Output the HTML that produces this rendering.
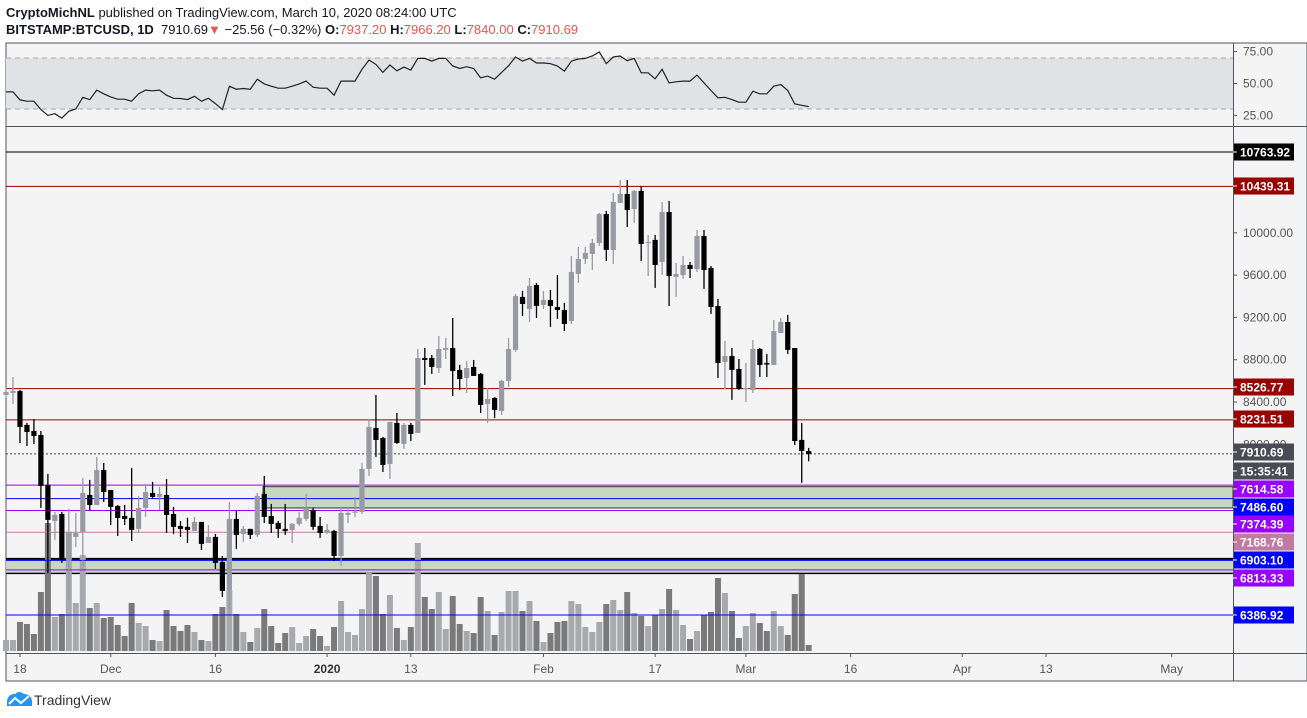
<!DOCTYPE html>
<html><head><meta charset="utf-8"><style>
html,body{margin:0;padding:0;background:#fff;width:1307px;height:718px;overflow:hidden;font-family:"Liberation Sans",sans-serif}
.hdr{position:absolute;left:6px;font-size:13px;color:#131722;white-space:nowrap}
</style></head><body>
<div class="hdr" style="top:5px"><b>CryptoMichNL</b> published on TradingView.com, March 10, 2020 08:24:00 UTC</div>
<div class="hdr" style="top:22px"><b>BITSTAMP:BTCUSD, 1D</b>&nbsp; 7910.69<span style="color:#ef5350">▼</span> −25.56 (−0.32%) <b>O:</b><span style="color:#ef5350">7937.20</span> <b>H:</b><span style="color:#ef5350">7966.20</span> <b>L:</b><span style="color:#ef5350">7840.00</span> <b>C:</b><span style="color:#ef5350">7910.69</span></div>
<svg id="c" width="1307" height="718" style="position:absolute;left:0;top:0" xmlns="http://www.w3.org/2000/svg"></svg>
<script>
const opens=[8467,8486,8505,8184,8127,8089,7617,7276,7342,6898,7125,7173,7522,7427,7758,7569,7418,7323,7305,7201,7399,7541,7503,7522,7342,7229,7220,7182,7267,7068,7125,6888,6624,7295,7153,7201,7144,7532,7323,7257,7201,7191,7248,7295,7380,7229,7163,7182,6945,7333,7361,7361,7768,8155,8061,7815,8203,8004,8184,8108,8817,8817,8722,8893,8911,8704,8628,8732,8666,8382,8439,8316,8600,8893,9394,9280,9507,9318,9365,9299,9270,9167,9611,9753,9800,9904,10178,9838,10282,10367,10225,10396,9904,9933,9724,10197,9583,9601,9696,9658,9970,9668,9308,8779,8836,8713,8524,8515,8902,8770,8751,9053,9157,8911,8042,7937.2];
const highs=[8533,8637,8515,8203,8240,8127,7721,7361,7361,7390,7352,7683,7664,7881,7825,7569,7427,7427,7777,7513,7626,7645,7598,7673,7409,7276,7305,7314,7267,7238,7153,6945,7456,7371,7229,7201,7541,7702,7437,7276,7437,7257,7361,7532,7399,7314,7248,7191,7409,7409,7503,7825,8240,8467,8070,8212,8297,8203,8203,8902,8911,8845,9025,9006,9195,8751,8789,8798,8675,8533,8448,8609,9006,9422,9451,9573,9526,9450,9460,9601,9337,9781,9866,9866,9942,10188,10207,10377,10500,10500,10405,10443,9980,9980,10292,10301,9715,9781,9724,10027,10027,9686,9375,8978,8911,8807,8770,8987,8911,8855,9176,9195,9223,8911,8203,7966.2];
const lows=[8439,8382,8013,7985,8004,7399,6784,7097,6879,6529,7031,6851,7371,7427,7456,7238,7134,7238,7087,7163,7314,7494,7380,7163,7153,7125,7068,7182,7002,7068,6822,6558,6435,7012,7078,7106,7125,7257,7163,7116,7144,7068,7229,7276,7191,7116,7153,6898,6851,7257,7314,7342,7702,7881,7739,7673,8004,7957,8032,8108,8562,8666,8675,8807,8458,8515,8486,8647,8297,8203,8250,8278,8543,8874,9214,9157,9195,9280,9110,9186,9072,9138,9526,9705,9649,9876,9734,9705,10282,10055,10093,9734,9592,9479,9601,9308,9393,9564,9573,9630,9469,9233,8628,8524,8420,8515,8401,8486,8637,8637,8751,9053,8855,7994,7636,7840];
const closes=[8496,8505,8165,8117,8080,7607,7286,7333,6907,7173,7163,7541,7427,7758,7550,7409,7305,7295,7191,7399,7550,7503,7532,7333,7220,7201,7191,7267,7059,7125,6879,6615,7295,7144,7201,7144,7513,7314,7248,7201,7182,7248,7305,7390,7220,7163,7191,6945,7352,7352,7365,7768,8165,8042,7806,8212,8013,8184,8099,8817,8798,8732,8902,8911,8694,8618,8722,8647,8373,8429,8325,8600,8902,9403,9327,9498,9308,9365,9308,9270,9138,9630,9753,9810,9904,10178,9838,10292,10367,10216,10396,9895,9914,9696,10197,9592,9611,9696,9658,9970,9649,9299,8770,8836,8704,8524,8533,8902,8750,8755,9072,9157,8893,8032,7937,7910.69];
const volumes=[11,11,29,27,17,59,128,34,37,119,48,96,43,48,33,34,26,15,48,28,25,11,10,41,25,20,26,19,11,10,37,44,61,37,19,9,23,42,25,8,18,24,8,15,22,15,5,24,50,19,16,42,78,75,37,56,23,11,24,108,54,42,59,22,55,27,20,18,54,40,16,39,60,60,40,50,30,9,18,29,30,50,47,24,19,29,47,51,41,59,38,35,25,36,42,62,41,26,12,20,36,39,73,58,40,13,25,38,28,20,40,25,16,57,77,6];
const rsiValues=[43.4,43.4,37.1,36.1,36.1,29.5,25.0,26.3,22.9,28.2,30.0,39.2,37.4,44.8,41.9,39.5,37.7,37.7,36.1,41.9,44.8,44.3,44.8,40.8,38.4,38.2,37.4,40.0,36.1,38.4,34.2,29.5,47.9,45.5,46.1,45.5,53.4,49.7,47.9,46.3,46.3,47.9,49.7,51.9,47.1,46.3,46.3,40.8,51.9,51.9,51.9,61.1,68.4,65.0,58.7,64.5,60.0,62.9,60.5,69.7,69.7,67.6,69.7,69.7,63.7,61.8,63.2,61.8,54.5,55.8,53.4,58.7,64.0,70.8,67.6,69.7,66.1,66.1,65.5,63.7,59.7,67.6,69.2,69.7,71.6,74.7,65.5,70.8,71.6,67.9,69.7,58.4,58.4,53.7,61.1,50.5,51.3,51.9,51.9,56.6,50.5,44.5,38.7,39.2,37.4,35.3,35.3,44.0,41.9,41.9,47.9,49.2,44.5,34.0,32.9,31.9];
const priceTicks=[10000,9600,9200,8800,8400,8000];
const rsiTicks=[75,50,25];
const dateLabels=["18","Dec","16","2020","13","Feb","17","Mar","16","Apr","13","May"];
const dateIndex=[2,15,30,46,58,77,93,106,121,137,149,167];
const levelPrices=[10763.92,10439.31,8526.77,8231.51,7614.58,7486.60,7374.39,7168.76,6903.10,6813.33,6386.92];
const levelColors=["#000","#990000","#990000","#990000","#9900ff","#0000ff","#9900ff","#c27ba0","#0000ff","#9900ff","#0000ff"];
const labelY=[152,186,387,419,489,507,524,542,560,578,615];

const NS="http://www.w3.org/2000/svg";
const svg=document.getElementById('c');
function el(t,a,p){const e=document.createElementNS(NS,t);for(const k in a)e.setAttribute(k,a[k]);(p||svg).appendChild(e);return e;}
const L=6,R=1233;
const yP=p=>152+(10763.92-p)*0.10578;
const xI=i=>6+6.98*i;
const yR=r=>58+(70-r)*1.275;
const yV=v=>651-v;

// backgrounds
let bg=el('rect',{x:L,y:43,width:1301,height:638,fill:'#f4f4f4',stroke:'#50535e','stroke-width':1});

let band=el('rect',{x:L,y:yR(70),width:R-L,height:yR(30)-yR(70),fill:'#e1e2e5'});

[70,30].forEach(v=>{let d=el('line',{x1:L,x2:R,y1:yR(v),y2:yR(v),stroke:'#a8a8a8','stroke-dasharray':'5,4'});});
el('line',{x1:L,x2:1307,y1:126.5,y2:126.5,stroke:'#50535e'});
el('line',{x1:L,x2:1307,y1:653.5,y2:653.5,stroke:'#50535e'});
el('line',{x1:R+0.5,x2:R+0.5,y1:43,y2:681,stroke:'#50535e'});

// rsi ticks
rsiTicks.forEach(v=>{let t=el('text',{x:1243,y:yR(v)+4,'font-size':12,fill:'#555','font-family':'Liberation Sans'});t.textContent=v.toFixed(2);el('line',{x1:R,x2:R+4,y1:yR(v),y2:yR(v),stroke:'#555'});});
// rsi line
let rp=rsiValues.map((r,i)=>xI(i).toFixed(1)+','+yR(r).toFixed(1)).join(' ');
let rl=el('polyline',{points:rp,fill:'none',stroke:'#222','stroke-width':1.2});


// price ticks
priceTicks.forEach(v=>{let t=el('text',{x:1243,y:yP(v)+4,'font-size':12,fill:'#555','font-family':'Liberation Sans'});t.textContent=v.toFixed(2);el('line',{x1:R,x2:R+4,y1:yP(v),y2:yP(v),stroke:'#555'});});

// boxes
let b1=el('rect',{x:263,y:yP(7600),width:R-263,height:yP(7399)-yP(7600),fill:'#c6d7c2',stroke:'#333','stroke-width':1});

let b2=el('rect',{x:L,y:yP(6903.10)-1.5,width:R-L,height:yP(6780)-yP(6903.10)+1.5,fill:'#c6d7c2'});

el('line',{x1:L,x2:R,y1:yP(6903.10)-1.5,y2:yP(6903.10)-1.5,stroke:'#000','stroke-width':2});
el('line',{x1:L,x2:R,y1:yP(6780),y2:yP(6780),stroke:'#000','stroke-width':1.3});

// volume
volumes.forEach((v,i)=>{const up=closes[i]>=opens[i];let r=el('rect',{x:xI(i)-3,y:yV(v),width:6,height:v,fill:up?'#a8a9ad':'#7a7a7a'});});

// level lines
levelPrices.forEach((p,i)=>{let l=el('line',{x1:L,x2:R,y1:yP(p),y2:yP(p),stroke:levelColors[i],'stroke-width':1});});
let pl=el('line',{x1:L,x2:R,y1:yP(7910.69),y2:yP(7910.69),stroke:'#444','stroke-dasharray':'2,2'});


// candles
opens.forEach((o,i)=>{const c=closes[i],up=c>=o,col=up?'#989aa3':'#000',x=xI(i);
 const g=el('g',{});
 el('line',{x1:x,x2:x,y1:yP(highs[i]),y2:yP(lows[i]),stroke:col,'stroke-width':1.3},g);
 const t=yP(Math.max(o,c)),b=yP(Math.min(o,c));
 el('rect',{x:x-2.6,y:t,width:5.2,height:Math.max(1.2,b-t),fill:col},g);});

// axis labels (price levels)
const lblText=["10763.92","10439.31","8526.77","8231.51","7614.58","7486.60","7374.39","7168.76","6903.10","6813.33","6386.92"];
function tag(y,txt,col,name){el('rect',{x:1234,y:y-8.5,width:60,height:17,fill:col});let t=el('text',{x:1240,y:y+4.5,'font-size':12,'font-weight':'bold',fill:'#fff','font-family':'Liberation Sans'});t.textContent=txt;el('line',{x1:R,x2:R+4,y1:y,y2:y,stroke:'#fff'});}
lblText.forEach((s,i)=>tag(labelY[i],s,levelColors[i],'price-level-label'));
tag(452,"7910.69","#4a4c55",'last-price-label');
tag(471,"15:35:41","#4a4c55",'bar-countdown-label');

// date axis
dateLabels.forEach((d,i)=>{const x=xI(dateIndex[i]);el('line',{x1:x,x2:x,y1:653,y2:657,stroke:'#555'});let t=el('text',{x:x,y:673,'font-size':12,fill:d==="2020"?'#333':'#555','text-anchor':'middle','font-family':'Liberation Sans','font-weight':d==="2020"?'bold':'normal'});t.textContent=d;});

// logo
let lg=el('g',{});
el('path',{d:'M7 706 L7 701 Q8 694 15 694 Q19 690 24 694 Q31 694 32 701 L32 706 Z',fill:'#2196f3'},lg);
el('polyline',{points:'9,704 15,698 21,703 29,696',fill:'none',stroke:'#fff','stroke-width':2},lg);
let lt=el('text',{x:34,y:705,'font-size':14,fill:'#333','font-family':'Liberation Sans'},lg);lt.textContent='TradingView';
</script>
</body></html>
